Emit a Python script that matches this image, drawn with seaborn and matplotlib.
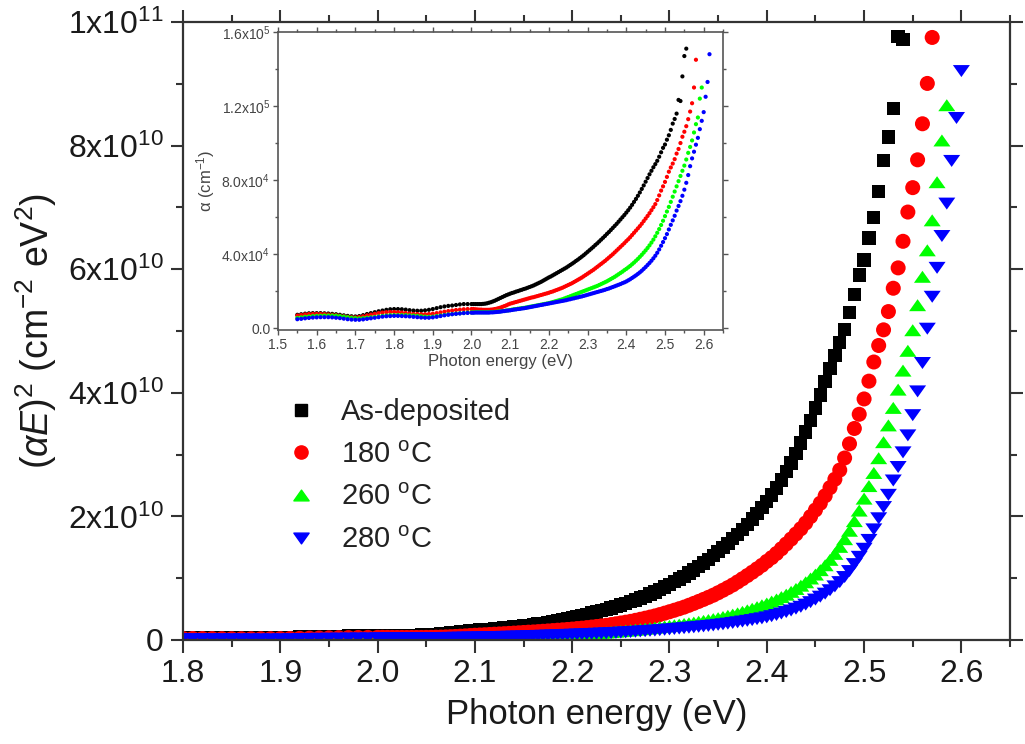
import numpy as np
import pandas as pd
import seaborn as sns
import matplotlib.pyplot as plt
from matplotlib.lines import Line2D
from matplotlib.markers import MarkerStyle
from matplotlib.path import Path
from matplotlib.ticker import MultipleLocator

nan = np.nan

# photon energy grid (eV): 0.01 steps up to 2.00, 0.005 steps above
energy_lo = [1.55, 1.56, 1.57, 1.58, 1.59,
             1.60, 1.61, 1.62, 1.63, 1.64, 1.65, 1.66, 1.67, 1.68, 1.69,
             1.70, 1.71, 1.72, 1.73, 1.74, 1.75, 1.76, 1.77, 1.78, 1.79,
             1.80, 1.81, 1.82, 1.83, 1.84, 1.85, 1.86, 1.87, 1.88, 1.89,
             1.90, 1.91, 1.92, 1.93, 1.94, 1.95, 1.96, 1.97, 1.98, 1.99,
             2.00]
energy_hi = [2.005, 2.010, 2.015, 2.020, 2.025, 2.030, 2.035, 2.040, 2.045, 2.050,
             2.055, 2.060, 2.065, 2.070, 2.075, 2.080, 2.085, 2.090, 2.095, 2.100,
             2.105, 2.110, 2.115, 2.120, 2.125, 2.130, 2.135, 2.140, 2.145, 2.150,
             2.155, 2.160, 2.165, 2.170, 2.175, 2.180, 2.185, 2.190, 2.195, 2.200,
             2.205, 2.210, 2.215, 2.220, 2.225, 2.230, 2.235, 2.240, 2.245, 2.250,
             2.255, 2.260, 2.265, 2.270, 2.275, 2.280, 2.285, 2.290, 2.295, 2.300,
             2.305, 2.310, 2.315, 2.320, 2.325, 2.330, 2.335, 2.340, 2.345, 2.350,
             2.355, 2.360, 2.365, 2.370, 2.375, 2.380, 2.385, 2.390, 2.395, 2.400,
             2.405, 2.410, 2.415, 2.420, 2.425, 2.430, 2.435, 2.440, 2.445, 2.450,
             2.455, 2.460, 2.465, 2.470, 2.475, 2.480, 2.485, 2.490, 2.495, 2.500,
             2.505, 2.510, 2.515, 2.520, 2.525, 2.530, 2.535, 2.540, 2.545, 2.550,
             2.555, 2.560, 2.565, 2.570, 2.575, 2.580, 2.585, 2.590, 2.595, 2.600,
             2.605, 2.610, 2.615]

alpha_asdep = [7.2, 7.5, 7.8, 8.0, 8.1,
               8.1, 8.1, 8.0, 7.9, 7.7, 7.5, 7.2, 6.9, 6.6, 6.4,
               6.3, 6.5, 7.0, 7.6, 8.1, 8.6, 9.1, 9.5, 9.9, 10.2,
               10.3, 10.3, 10.2, 10.0, 9.7, 9.5, 9.4, 9.4, 9.6, 9.9,
               10.3, 10.8, 11.3, 11.7, 12.0, 12.2, 12.5, 12.8, 13.0, 13.0,
               13.0,
               13.0, 13.0, 13.0, 13.0, 13.0, 13.1, 13.2, 13.4, 13.7, 14.0,
               14.4, 14.8, 15.3, 15.8, 16.3, 16.8, 17.3, 17.8, 18.2, 18.6,
               19.0, 19.3, 19.7, 20.0, 20.4, 20.7, 21.1, 21.4, 21.8, 22.2,
               22.6, 23.0, 23.5, 24.0, 24.5, 25.0, 25.6, 26.2, 26.8, 27.4,
               27.9, 28.5, 29.1, 29.7, 30.3, 30.9, 31.5, 32.1, 32.7, 33.4,
               34.1, 34.8, 35.5, 36.3, 37.0, 37.8, 38.6, 39.4, 40.3, 41.2,
               42.1, 43.0, 43.9, 44.9, 45.8, 46.8, 47.8, 48.8, 49.8, 50.9,
               51.9, 53.0, 54.1, 55.2, 56.3, 57.5, 58.7, 59.9, 61.1, 62.4,
               63.7, 65.1, 66.6, 68.2, 69.8, 71.5, 73.3, 75.2, 77.1, 79.1,
               81.1, 83.1, 85.0, 86.9, 88.6, 90.4, 92.6, 95.0, 97.4, 99.2,
               101.8, 104.2, 107.1, 110.5, 113.0, 115.9, 123.3, 122.7, 136, 147,
               151, nan, nan, nan, nan, nan, nan, nan, nan, nan,
               nan, nan, nan]
alpha_180 = [6.8, 7.1, 7.4, 7.6, 7.7,
             7.7, 7.7, 7.6, 7.4, 7.2, 7.0, 6.7, 6.4, 6.1, 5.9,
             5.8, 6.0, 6.4, 6.9, 7.3, 7.7, 8.1, 8.4, 8.6, 8.7,
             8.7, 8.6, 8.4, 8.2, 7.9, 7.7, 7.6, 7.5, 7.5, 7.6,
             7.8, 8.1, 8.5, 8.9, 9.2, 9.5, 9.8, 10.0, 10.2, 10.3,
             10.3,
             10.3, 10.2, 10.1, 10.0, 10.0, 9.9, 9.9, 9.9, 9.9, 10.0,
             10.1, 10.3, 10.5, 10.8, 11.1, 11.5, 11.9, 12.3, 12.8, 13.2,
             13.5, 13.8, 14.1, 14.4, 14.7, 15.0, 15.3, 15.6, 15.9, 16.2,
             16.5, 16.7, 17.0, 17.3, 17.6, 17.9, 18.2, 18.5, 18.8, 19.1,
             19.5, 19.8, 20.2, 20.6, 21.0, 21.4, 21.8, 22.3, 22.8, 23.3,
             23.8, 24.3, 24.9, 25.5, 26.1, 26.7, 27.3, 28.0, 28.7, 29.4,
             30.1, 30.8, 31.5, 32.3, 33.1, 33.9, 34.7, 35.5, 36.3, 37.2,
             38.1, 39.0, 39.9, 40.9, 41.9, 42.9, 43.9, 44.9, 45.9, 47.0,
             48.0, 49.1, 50.3, 51.5, 52.7, 53.9, 55.1, 56.4, 57.8, 59.2,
             60.6, 62.1, 63.7, 65.3, 67.0, 69.2, 71.7, 74.3, 76.6, 79.0,
             81.7, 84.5, 86.8, 88.9, 91.3, 94.3, 96.8, 100.0, 103.4, 106.1,
             109.1, 112.9, 117.0, 121.5, 130, 145, nan, nan, nan, nan,
             nan, nan, nan]
alpha_260 = [5.5, 5.8, 6.1, 6.3, 6.5,
             6.6, 6.7, 6.8, 6.8, 6.8, 6.7, 6.5, 6.2, 5.9, 5.6,
             5.4, 5.3, 5.4, 5.6, 5.8, 6.0, 6.3, 6.6, 6.8, 7.0,
             7.0, 7.0, 7.0, 7.0, 6.9, 6.8, 6.6, 6.4, 6.2, 6.1,
             6.2, 6.5, 6.8, 7.1, 7.4, 7.6, 7.8, 8.0, 8.2, 8.4,
             8.5,
             8.5, 8.6, 8.6, 8.6, 8.6, 8.6, 8.6, 8.6, 8.6, 8.7,
             8.7, 8.8, 8.9, 9.0, 9.1, 9.2, 9.3, 9.5, 9.6, 9.8,
             10.0, 10.2, 10.3, 10.5, 10.6, 10.8, 10.9, 11.1, 11.3, 11.5,
             11.7, 11.9, 12.1, 12.3, 12.5, 12.7, 12.9, 13.1, 13.3, 13.5,
             13.8, 14.1, 14.4, 14.7, 15.0, 15.3, 15.6, 16.0, 16.4, 16.8,
             17.2, 17.6, 18.0, 18.4, 18.8, 19.2, 19.6, 20.0, 20.4, 20.8,
             21.2, 21.6, 22.0, 22.4, 22.8, 23.3, 23.8, 24.3, 24.8, 25.3,
             25.9, 26.5, 27.1, 27.7, 28.4, 29.1, 29.8, 30.5, 31.3, 32.0,
             32.8, 33.6, 34.5, 35.4, 36.4, 37.4, 38.5, 39.6, 40.8, 42.0,
             43.3, 44.7, 46.2, 47.8, 49.6, 51.5, 53.5, 55.7, 58.0, 60.5,
             63.0, 65.5, 68.2, 71.0, 73.8, 76.6, 79.4, 82.2, 85.0, 87.8,
             91.1, 94.7, 97.9, 101.4, 105.7, 110.2, 113.8, 124, 130, nan,
             nan, nan, nan]
alpha_280 = [4.8, 5.0, 5.3, 5.5, 5.7,
             5.8, 5.9, 5.9, 5.9, 5.8, 5.6, 5.4, 5.1, 4.8, 4.6,
             4.5, 4.5, 4.7, 5.0, 5.3, 5.6, 5.9, 6.2, 6.4, 6.5,
             6.6, 6.6, 6.5, 6.4, 6.3, 6.1, 5.9, 5.7, 5.6, 5.6,
             5.8, 6.1, 6.5, 6.9, 7.2, 7.5, 7.7, 7.9, 8.1, 8.2,
             8.3,
             8.3, 8.4, 8.4, 8.4, 8.4, 8.4, 8.4, 8.4, 8.4, 8.5,
             8.5, 8.6, 8.7, 8.8, 8.9, 9.1, 9.2, 9.4, 9.5, 9.6,
             9.8, 10.0, 10.1, 10.3, 10.4, 10.6, 10.7, 10.9, 11.1, 11.3,
             11.5, 11.7, 11.9, 12.1, 12.3, 12.5, 12.7, 12.9, 13.1, 13.3,
             13.5, 13.7, 13.9, 14.1, 14.3, 14.5, 14.7, 14.9, 15.1, 15.4,
             15.6, 15.9, 16.1, 16.4, 16.6, 16.9, 17.1, 17.4, 17.7, 18.0,
             18.3, 18.6, 18.9, 19.2, 19.5, 19.8, 20.1, 20.4, 20.7, 21.1,
             21.4, 21.8, 22.2, 22.6, 23.0, 23.4, 23.8, 24.3, 24.7, 25.2,
             25.8, 26.4, 27.1, 27.8, 28.5, 29.3, 30.1, 31.0, 32.0, 33.0,
             34.1, 35.2, 36.4, 37.7, 39.1, 40.7, 42.5, 44.5, 46.5, 48.6,
             50.8, 53.3, 55.8, 58.2, 60.7, 63.5, 66.0, 68.6, 71.5, 74.8,
             78.5, 82.7, 87.5, 91.7, 95.3, 99.1, 102.8, 107.5, 112.0, 116.7,
             125, 133, 148]

labels = ["As-deposited", r"180 $^{\mathrm{o}}$C", r"260 $^{\mathrm{o}}$C", r"280 $^{\mathrm{o}}$C"]
colors = ["#000000", "#ff0000", "#00ff00", "#0000ff"]

main_xticks = [1.8, 1.9, 2.0, 2.1, 2.2, 2.3, 2.4, 2.5, 2.6]
main_yticks = [0, 2e10, 4e10, 6e10, 8e10, 1e11]
main_ylabels = ["0", r"2x10$^{10}$", r"4x10$^{10}$", r"6x10$^{10}$", r"8x10$^{10}$", r"1x10$^{11}$"]
inset_xticks = [1.5, 1.6, 1.7, 1.8, 1.9, 2.0, 2.1, 2.2, 2.3, 2.4, 2.5, 2.6]
inset_yticks = [0, 4e4, 8e4, 1.2e5, 1.6e5]
inset_ylabels = ["0.0", r"4.0x10$^{4}$", r"8.0x10$^{4}$", r"1.2x10$^{5}$", r"1.6x10$^{5}$"]

energy = energy_lo + energy_hi
frames = []
for lab, a in zip(labels, [alpha_asdep, alpha_180, alpha_260, alpha_280]):
    frames.append(pd.DataFrame({"energy": energy, "alpha": np.array(a) * 1e3, "sample": lab}))
df = pd.concat(frames).dropna()
# Tauc plot quantity for a direct gap
df["tauc"] = (df["alpha"] * df["energy"]) ** 2

sns.set_style("ticks")
plt.rcParams["font.family"] = ["Liberation Sans", "DejaVu Sans"]
plt.rcParams["mathtext.fontset"] = "custom"
plt.rcParams["mathtext.rm"] = "Liberation Sans"
plt.rcParams["mathtext.it"] = "Liberation Sans:italic"
plt.rcParams["mathtext.bf"] = "Liberation Sans:bold"

tri_up = MarkerStyle(Path([(-1, -0.705), (1, -0.705), (0, 0.705), (-1, -0.705)], closed=True))
tri_down = MarkerStyle(Path([(-1, 0.705), (1, 0.705), (0, -0.705), (-1, 0.705)], closed=True))
markers = ["s", "o", tri_up, tri_down]
sizes = [92, 117, 150, 150]

fig = plt.figure(figsize=(10.25, 7.44), dpi=100)
ax = fig.add_axes([0.1785, 0.1398, 0.8069, 0.8306])

for lab, c, m, s in zip(labels, colors, markers, sizes):
    sns.scatterplot(data=df[df["sample"] == lab], x="energy", y="tauc", color=c,
                    marker=m, s=s, edgecolor="none", linewidth=0, ax=ax, legend=False)

ax.set_xlim(1.8, 2.65)
ax.set_ylim(0, 1e11)
ax.set_xticks(main_xticks)
ax.set_xticklabels([f"{v:.1f}" for v in main_xticks])
ax.set_yticks(main_yticks)
ax.set_yticklabels(main_ylabels)
ax.xaxis.set_minor_locator(MultipleLocator(0.05))
ax.yaxis.set_minor_locator(MultipleLocator(1e10))
ax.tick_params(which="both", direction="out", top=True, right=True, width=1.5,
               color="#333333", labelsize=23, labelcolor="#1a1a1a", pad=5)
ax.tick_params(which="major", length=9)
ax.tick_params(which="minor", length=5)
for sp in ax.spines.values():
    sp.set_linewidth(1.6)
    sp.set_color("#333333")
ax.set_xlabel("Photon energy (eV)", fontsize=25, color="#1a1a1a", labelpad=6)
ax.set_ylabel(r"$(\alpha E)^{2}$ (cm$^{-2}$ eV$^{2}$)", fontsize=27, color="#1a1a1a", labelpad=6)

handles = [Line2D([], [], linestyle="none", marker=m, color=c, markersize=ms)
           for m, c, ms in zip(markers, colors, [8.4, 9.5, 11, 11])]
ax.legend(handles, labels, loc="upper left", bbox_to_anchor=(286 / 1025, 1 - 398 / 744),
          bbox_transform=fig.transFigure, frameon=False, fontsize=21, handlelength=1.0,
          handletextpad=0.9, labelspacing=0.5, borderpad=0, borderaxespad=0,
          labelcolor="#222222")

# inset: absorption coefficient
axi = fig.add_axes([0.2712, 0.5565, 0.4342, 0.4005])
for lab, c in zip(labels, colors):
    sns.scatterplot(data=df[df["sample"] == lab], x="energy", y="alpha", color=c,
                    marker="o", s=9, edgecolor="none", linewidth=0, ax=axi, legend=False)
axi.set_xlim(1.5, 2.65)
axi.set_ylim(-1000, 1.6e5)
axi.set_xticks(inset_xticks)
axi.set_xticklabels([f"{v:.1f}" for v in inset_xticks])
axi.set_yticks(inset_yticks)
axi.set_yticklabels(inset_ylabels)
axi.xaxis.set_minor_locator(MultipleLocator(0.05))
axi.yaxis.set_minor_locator(MultipleLocator(2e4))
axi.tick_params(which="both", direction="out", top=True, right=True, width=1.0,
                color="#555555", labelsize=10, labelcolor="#444444", pad=2)
axi.tick_params(which="major", length=3.5)
axi.tick_params(which="minor", length=2)
for sp in axi.spines.values():
    sp.set_linewidth(1.2)
    sp.set_color("#555555")
axi.set_xlabel("Photon energy (eV)", fontsize=12, color="#444444", labelpad=2)
axi.set_ylabel(r"α (cm$^{-1}$)", fontsize=12, color="#444444", labelpad=3)

fig.savefig("out.png", dpi=100)
